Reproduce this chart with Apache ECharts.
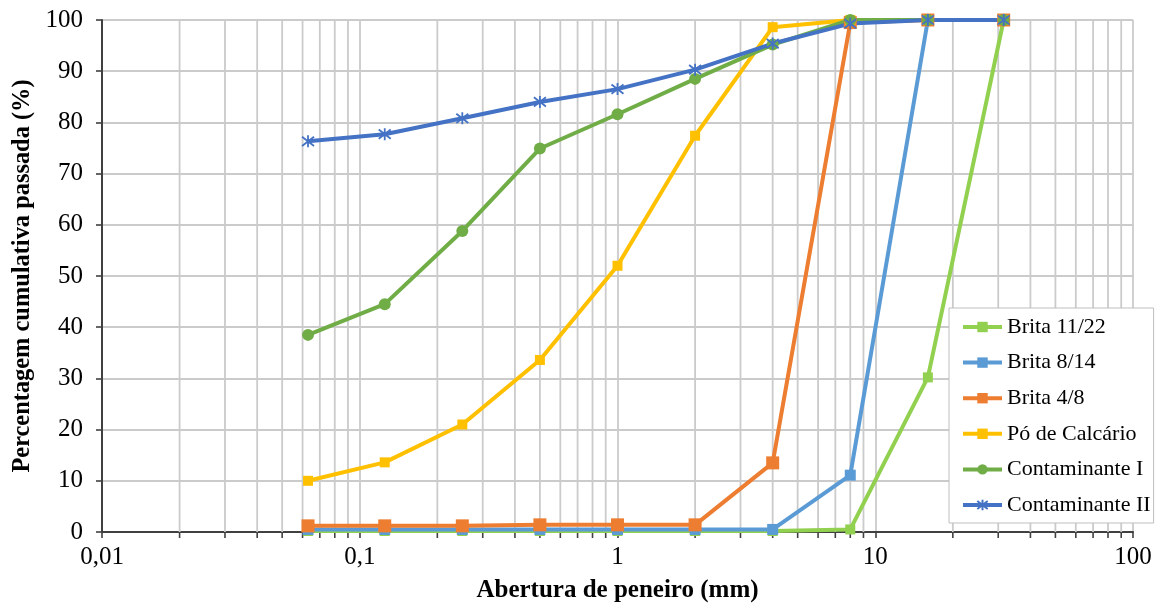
<!DOCTYPE html>
<html>
<head>
<meta charset="utf-8">
<script src="https://cdn.jsdelivr.net/npm/echarts@6/dist/echarts.min.js"></script>
<style>
  html, body { margin: 0; padding: 0; background: #fff; }
  #chart { width: 1162px; height: 608px; }
</style>
</head>
<body>
<div id="chart"></div>
<script>
// Sieve openings (mm) and cumulative passing (%) for each material
const sieves = [0.063, 0.125, 0.25, 0.5, 1, 2, 4, 8, 16, 31.5];
const brita1122 = [0.2, 0.2, 0.2, 0.2, 0.2, 0.2, 0.2, 0.5, 30.2, 100];
const brita814 = [0.5, 0.5, 0.5, 0.5, 0.5, 0.5, 0.5, 11.1, 100, 100];
const brita48 = [1.2, 1.2, 1.2, 1.4, 1.4, 1.4, 13.5, 99.5, 100, 100];
const poCalcario = [10.0, 13.6, 21.0, 33.6, 52.0, 77.4, 98.6, 100, 100, 100];
const contaminanteI = [38.5, 44.5, 58.8, 74.9, 81.6, 88.5, 95.2, 100, 100, 100];
const contaminanteII = [76.3, 77.7, 80.8, 84.0, 86.5, 90.3, 95.4, 99.3, 100, 100];

const seriesNames = ['Brita 11/22', 'Brita 8/14', 'Brita 4/8', 'Pó de Calcário', 'Contaminante I', 'Contaminante II'];
const seriesColors = ['#92D050', '#5B9BD5', '#ED7D31', '#FFC000', '#70AD47', '#4472C4'];

// Intermediate log-decade values (2..9 × 10^k) for the minor grid
const minorValues = [];
[0.01, 0.1, 1, 10].forEach(function (d) {
  for (let m = 2; m <= 9; m++) minorValues.push(+(m * d).toPrecision(6));
});

const FONT = 'Liberation Serif';
const GRID_COLOR = '#cbcbcb';
const AXIS_COLOR = '#404040';

const pairs = vals => sieves.map((s, i) => [s, vals[i]]);

// six-armed star marker: an X crossed by a vertical stroke
const starPath = 'path://M0,0L10,10M10,0L0,10M5,-1.5L5,11.5';

function makeSeries(name, vals, color, symbol, size) {
  const s = {
    name: name,
    type: 'line',
    data: pairs(vals),
    symbol: symbol,
    symbolSize: size,
    showSymbol: true,
    lineStyle: { color: color, width: 4 },
    itemStyle: { color: color },
    z: 3,
    animation: false
  };
  if (symbol === starPath) {
    s.itemStyle = { color: color, borderColor: color, borderWidth: 1.8 };
  }
  return s;
}

const chart = echarts.init(document.getElementById('chart'), null, { renderer: 'canvas' });

const option = {
  backgroundColor: '#ffffff',
  animation: false,
  grid: { left: 102, right: 29, top: 20, bottom: 76, containLabel: false },
  legend: {
    data: seriesNames,
    orient: 'vertical',
    left: 949,
    top: 308,
    padding: [8, 3, 7, 12],
    backgroundColor: '#ffffff',
    borderColor: '#bfbfbf',
    borderWidth: 1,
    itemWidth: 39,
    itemHeight: 13,
    itemGap: 13.6,
    lineStyle: { width: 4 },
    textStyle: { fontFamily: FONT, fontSize: 22, color: '#000' }
  },
  xAxis: {
    type: 'log',
    logBase: 10,
    min: 0.01,
    max: 100,
    name: 'Abertura de peneiro (mm)',
    nameLocation: 'middle',
    nameGap: 46,
    nameTextStyle: { fontFamily: FONT, fontSize: 25, fontWeight: 'bold', color: '#000' },
    axisLine: { show: true, onZero: false, lineStyle: { color: AXIS_COLOR, width: 2 } },
    axisTick: { show: true, length: 6, lineStyle: { color: AXIS_COLOR, width: 1.6 } },
    axisLabel: {
      fontFamily: FONT, fontSize: 25, color: '#000', margin: 13,
      formatter: v => String(+(+v).toPrecision(6)).replace('.', ',')
    },
    splitLine: { show: true, lineStyle: { color: GRID_COLOR, width: 1.8 } }
  },
  yAxis: {
    type: 'value',
    min: 0,
    max: 100,
    interval: 10,
    name: 'Percentagem cumulativa passada (%)',
    nameLocation: 'middle',
    nameGap: 65,
    nameTextStyle: { fontFamily: FONT, fontSize: 24.4, fontWeight: 'bold', color: '#000' },
    axisLine: { show: true, lineStyle: { color: AXIS_COLOR, width: 2 } },
    axisTick: { show: true, length: 6, lineStyle: { color: AXIS_COLOR, width: 1.6 } },
    axisLabel: { fontFamily: FONT, fontSize: 25, color: '#000', margin: 19 },
    splitLine: { show: true, lineStyle: { color: GRID_COLOR, width: 1.8 } }
  },
  series: [
    {
      // minor vertical grid lines and their ticks under the axis
      name: 'minor',
      type: 'custom',
      silent: true,
      z: 1,
      data: minorValues.map(v => [v, 0]),
      renderItem: function (params, api) {
        const top = api.coord([api.value(0), 100]);
        const bot = api.coord([api.value(0), 0]);
        return {
          type: 'group',
          children: [
            {
              type: 'line',
              shape: { x1: top[0], y1: top[1], x2: bot[0], y2: bot[1] },
              style: { stroke: GRID_COLOR, lineWidth: 1.8 }
            },
            {
              type: 'line',
              shape: { x1: bot[0], y1: bot[1], x2: bot[0], y2: bot[1] + 6 },
              style: { stroke: AXIS_COLOR, lineWidth: 1.6 }
            }
          ]
        };
      }
    },
    makeSeries(seriesNames[0], brita1122, seriesColors[0], 'rect', 10),
    makeSeries(seriesNames[1], brita814, seriesColors[1], 'rect', 11),
    makeSeries(seriesNames[2], brita48, seriesColors[2], 'rect', 13),
    makeSeries(seriesNames[3], poCalcario, seriesColors[3], 'rect', 10),
    makeSeries(seriesNames[4], contaminanteI, seriesColors[4], 'circle', 12),
    makeSeries(seriesNames[5], contaminanteII, seriesColors[5], starPath, 12)
  ]
};

chart.setOption(option);
</script>
</body>
</html>
